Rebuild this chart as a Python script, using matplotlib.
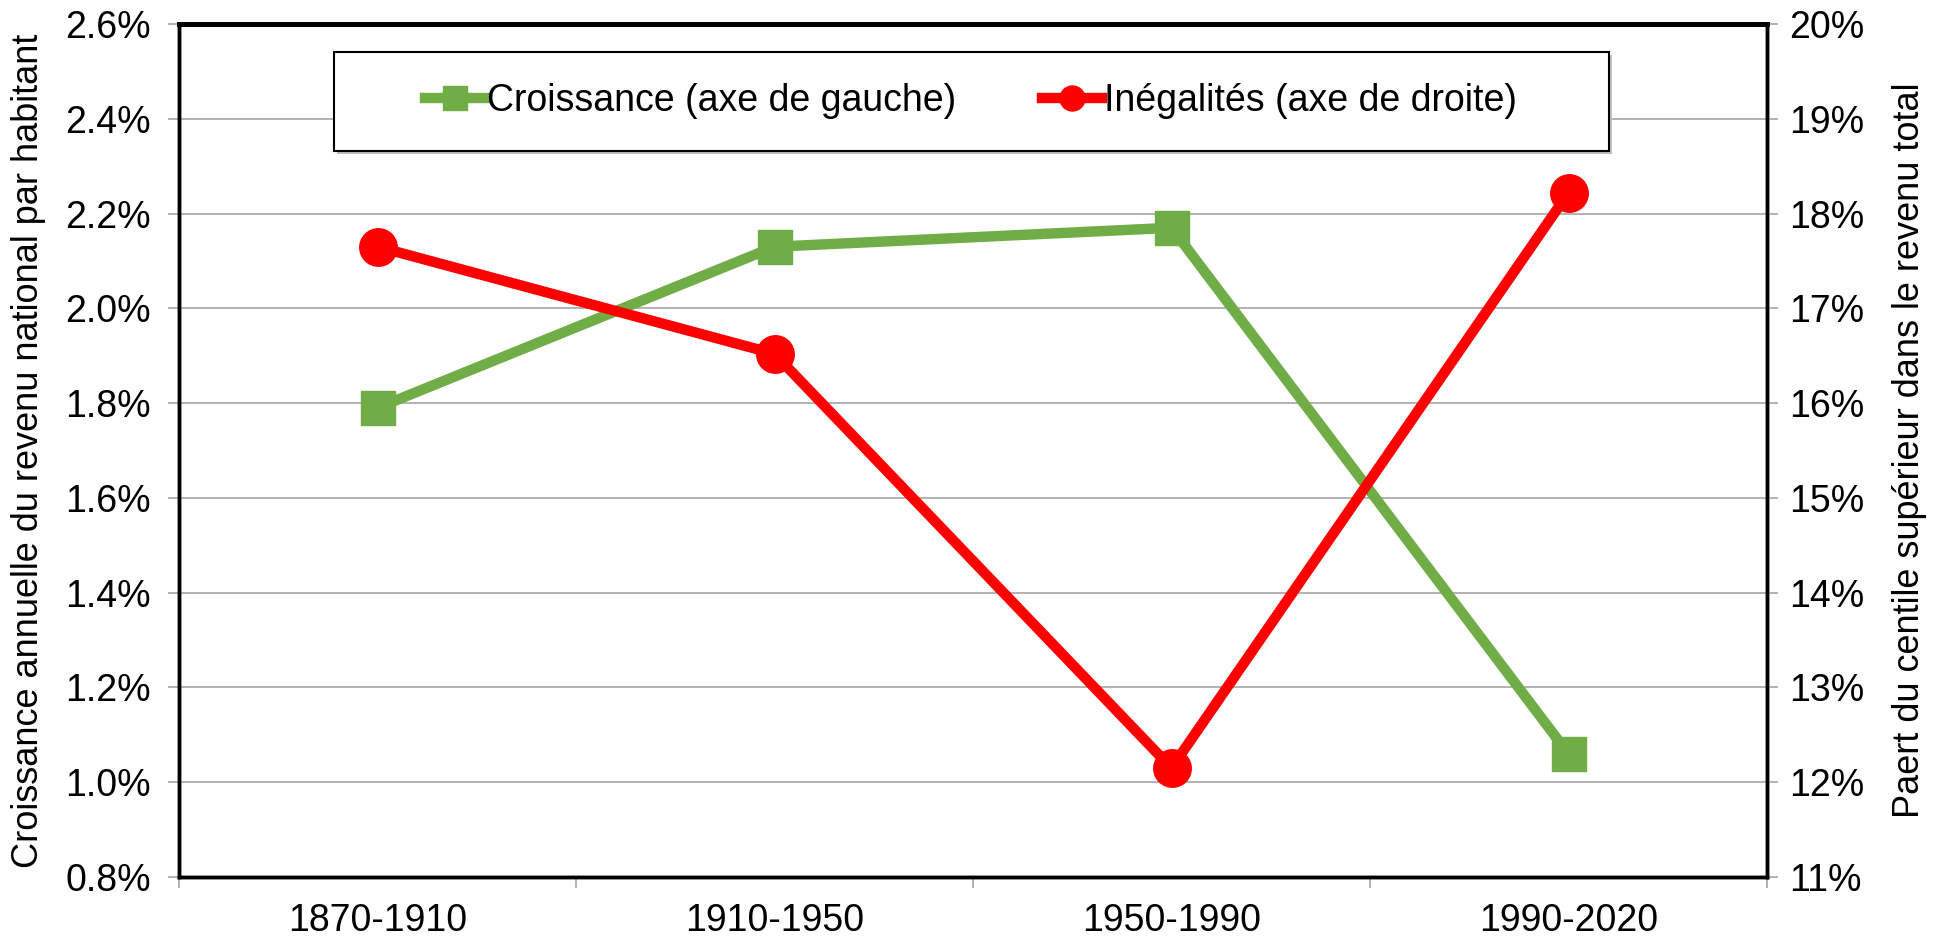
import matplotlib
matplotlib.use("Agg")
import matplotlib.pyplot as plt
from matplotlib.lines import Line2D
from matplotlib.patches import Rectangle
from matplotlib.ticker import FuncFormatter, MultipleLocator, FixedLocator
import numpy as np

plt.rcParams['font.family'] = ['Liberation Sans', 'DejaVu Sans']

# périodes
periodes = ['1870-1910', '1910-1950', '1950-1990', '1990-2020']

# croissance annuelle du revenu national par habitant (%)
croissance = [1.79, 2.13, 2.17, 1.06]

# part du centile supérieur dans le revenu total (%)
inegalites = [17.65, 16.52, 12.15, 18.22]

vert = '#70AD47'
rouge = '#FF0000'
gris = '#A6A6A6'

fig = plt.figure(figsize=(19.41, 9.39), dpi=100)
ax = fig.add_axes([179/1941, 62/939, (1767-179)/1941, (877-24)/939])
ax2 = ax.twinx()

x = np.arange(len(periodes))

ax.plot(x, croissance, color=vert, lw=7.5, marker='s', markersize=24, zorder=3)
ax2.plot(x, inegalites, color=rouge, lw=7.5, marker='o', markersize=27, zorder=3)

# axe de gauche
ax.set_xlim(-0.5, len(periodes) - 0.5)
ax.set_ylim(0.8, 2.6)
ax.yaxis.set_major_locator(MultipleLocator(0.2))
ax.yaxis.set_major_formatter(FuncFormatter(lambda v, p: f'{v:.1f}%'))
ax.grid(axis='y', color=gris, lw=1.2)
ax.set_axisbelow(True)

# axe de droite
ax2.set_ylim(11, 20)
ax2.yaxis.set_major_locator(MultipleLocator(1))
ax2.yaxis.set_major_formatter(FuncFormatter(lambda v, p: f'{v:.0f}%'))

# graduations x : étiquettes au centre, traits aux limites
ax.set_xticks(x)
ax.set_xticklabels(periodes)
ax.xaxis.set_minor_locator(FixedLocator(np.arange(len(periodes) + 1) - 0.5))
ax.tick_params(axis='x', which='major', length=0, labelsize=27, pad=19)
ax.tick_params(axis='x', which='minor', length=8, width=1.2, color=gris)
ax.tick_params(axis='y', length=8, width=1.2, color=gris, labelsize=27, pad=12)
ax2.tick_params(axis='y', length=8, width=1.2, color=gris, labelsize=27, pad=8)

for a in (ax, ax2):
    for s in ['left', 'right', 'bottom']:
        a.spines[s].set_linewidth(2.5)
        a.spines[s].set_color('black')
    a.spines['top'].set_linewidth(3.5)

ax.set_ylabel('Croissance annuelle du revenu national par habitant', fontsize=26, labelpad=14)
ax2.set_ylabel('Paert du centile supérieur dans le revenu total', fontsize=26, labelpad=20)

# légende
fig.add_artist(Rectangle((337/1941, 1 - 154/939), 1275/1941, 99/939,
                         transform=fig.transFigure, facecolor='#BFBFBF', edgecolor='none', zorder=3))
fig.add_artist(Rectangle((334/1941, 1 - 151/939), 1275/1941, 99/939,
                         transform=fig.transFigure, facecolor='white', edgecolor='black', lw=1.5, zorder=4))
poignees = [
    Line2D([], [], color=vert, lw=7.5, marker='s', markersize=17),
    Line2D([], [], color=rouge, lw=7.5, marker='o', markersize=18),
]
fig.legend(poignees, ['Croissance (axe de gauche)', 'Inégalités (axe de droite)'],
           loc='center', bbox_to_anchor=(971/1941, 1 - 101/939), ncol=2, frameon=False,
           fontsize=27, handlelength=1.6, handletextpad=0.05, columnspacing=2.3)

fig.savefig('out.png', dpi=100)
